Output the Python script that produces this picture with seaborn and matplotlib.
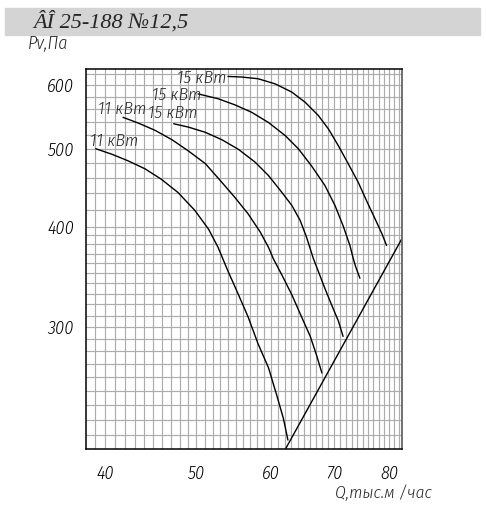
import pandas as pd
import seaborn as sns
import matplotlib.pyplot as plt
from matplotlib import font_manager as fm
from matplotlib.ft2font import FT2Font
from matplotlib.patches import Rectangle
from matplotlib.ticker import NullFormatter

# fan curves, Q (thousand m3/h) vs Pv (Pa)
q1 = [39.1, 40.7, 42.3, 44.1, 45.9, 47.8, 49.8, 51.5, 52.7, 54.0, 55.4, 56.7, 58.1, 59.6, 60.8, 61.8, 62.5]
p1 = [500, 492, 483, 472, 458, 441, 419, 397, 377, 352, 329, 309, 286, 267, 247, 231, 217]
q2 = [41.8, 43.4, 45.2, 47.1, 49.0, 51.1, 53.2, 54.9, 56.7, 58.4, 59.6, 60.3, 61.6, 63.1, 64.6, 66.0, 67.0, 67.9]
p2 = [547, 538, 527, 513, 497, 479, 454, 435, 415, 394, 377, 365, 348, 329, 309, 292, 277, 263]
q3 = [47.3, 49.0, 51.1, 53.2, 55.4, 57.7, 59.6, 61.6, 63.1, 64.4, 65.4, 66.5, 67.3, 68.4, 69.5, 70.7, 71.5]
p3 = [537, 532, 524, 513, 499, 481, 463, 441, 425, 407, 388, 365, 352, 335, 320, 305, 292]
q4 = [50.2, 52.7, 54.9, 57.2, 59.6, 62.1, 64.1, 66.2, 68.4, 70.1, 71.5, 72.7, 73.3, 73.7, 74.5]
p4 = [585, 577, 567, 555, 539, 519, 500, 476, 450, 425, 401, 379, 365, 357, 345]
q5 = [54.0, 55.8, 58.1, 60.6, 63.1, 65.2, 67.3, 69.0, 70.7, 72.4, 74.2, 75.7, 77.3, 78.6, 79.5]
p5 = [615, 614, 611, 602, 588, 571, 550, 529, 504, 479, 454, 431, 409, 392, 379]

# network characteristic (straight line on log-log paper)
q_sys = [62.2, 82.5]
p_sys = [212, 386]

curve_labels = ['11 кВт', '11 кВт', '15 кВт', '15 кВт', '15 кВт']
label_q = [38.6, 39.3, 44.4, 44.9, 47.7]
label_p = [511, 559, 554, 583, 611]

x_major = [40, 50, 60, 70, 80]
y_major = [300, 400, 500, 600]
x_minor = list(range(39, 83))
y_minor = list(range(220, 400, 10)) + list(range(420, 640, 20))

frames = []
for i, (q, p) in enumerate([(q1, p1), (q2, p2), (q3, p3), (q4, p4), (q5, p5), (q_sys, p_sys)]):
    frames.append(pd.DataFrame({'Q': q, 'P': p, 'curve': i}))
df = pd.concat(frames, ignore_index=True)


def has_cyrillic(fname):
    try:
        cmap = FT2Font(fname).get_charmap()
    except Exception:
        return False
    return all(ord(c) in cmap for c in 'кВтПаыс')


def narrow_faces():
    # narrow/condensed italic sans faces: cyrillic first, light weight preferred
    bad = ('bold', 'black', 'medium', 'mono', 'serif', 'extra', 'semi', 'ultra', 'cjk', 'thin')
    found = []
    for f in fm.fontManager.ttflist:
        fn = f.fname.lower()
        if ('narrow' in fn or 'condensed' in fn) and 'italic' in fn and not any(b in fn for b in bad):
            found.append(f)
    found.sort(key=lambda f: (not has_cyrillic(f.fname), 'light' not in f.fname.lower()))
    return found


sns.set_style('white')
plt.rcParams['font.family'] = ['Roboto', 'DejaVu Sans']
faces = narrow_faces()
face = faces[0] if faces else None


def fp(size):
    if face is not None:
        return fm.FontProperties(family=[face.name, 'Roboto', 'DejaVu Sans'], style=face.style,
                                 stretch=face.stretch, weight=face.weight, size=size)
    return fm.FontProperties(family=['Roboto', 'DejaVu Sans'], style='italic', weight='light', size=size)


fig = plt.figure(figsize=(4.86, 5.14), dpi=100)
ax = fig.add_axes([0.177, 0.1265, 0.650, 0.7393])
ax.set_xscale('log')
ax.set_yscale('log')

sns.lineplot(data=df, x='Q', y='P', units='curve', estimator=None, sort=False,
             color='black', lw=1.0, ax=ax, legend=False)

ax.set_xlim(38.19, 82.54)
ax.set_ylim(211.5, 628.3)

ax.set_xticks(x_major)
ax.set_xticklabels([str(v) for v in x_major])
ax.set_xticks(x_minor, minor=True)
ax.set_yticks(y_major)
ax.set_yticklabels([str(v) for v in y_major])
ax.set_yticks(y_minor, minor=True)
ax.xaxis.set_minor_formatter(NullFormatter())
ax.yaxis.set_minor_formatter(NullFormatter())

ax.grid(which='both', color='#adadad', lw=0.85)
ax.set_axisbelow(True)
ax.tick_params(which='major', direction='out', length=7.5, width=0.8, color='#999999', pad=4)
ax.tick_params(which='minor', direction='out', length=3.8, width=0.8, color='#999999')
ax.tick_params(axis='y', which='major', pad=1)
for lab in ax.get_xticklabels() + ax.get_yticklabels():
    lab.set_fontproperties(fp(13))
    lab.set_color('black')

for side in ['left', 'bottom', 'top']:
    ax.spines[side].set_color('black')
    ax.spines[side].set_linewidth(1.1)
ax.spines['right'].set_color('#666666')
ax.spines['right'].set_linewidth(1.3)
ax.set_xlabel('')
ax.set_ylabel('')

for txt, q, p in zip(curve_labels, label_q, label_p):
    ax.text(q, p, txt, ha='left', va='center', fontproperties=fp(12.5))

# header strip
fig.add_artist(Rectangle((0.0103, 0.9319), 0.9774, 0.0525, transform=fig.transFigure,
                         color='#d4d4d4', zorder=0))
fig.text(0.068, 0.957, 'ÂÎ 25-188 №12,5', ha='left', va='center', fontsize=16,
         style='italic', family=['Liberation Serif', 'DejaVu Serif'])
fig.text(0.058, 0.914, 'Pv,Па', ha='left', va='center', fontproperties=fp(13))
fig.text(0.69, 0.041, 'Q,тыс.м /час', ha='left', va='center', fontproperties=fp(12.5))

fig.savefig('out.png', dpi=100)
